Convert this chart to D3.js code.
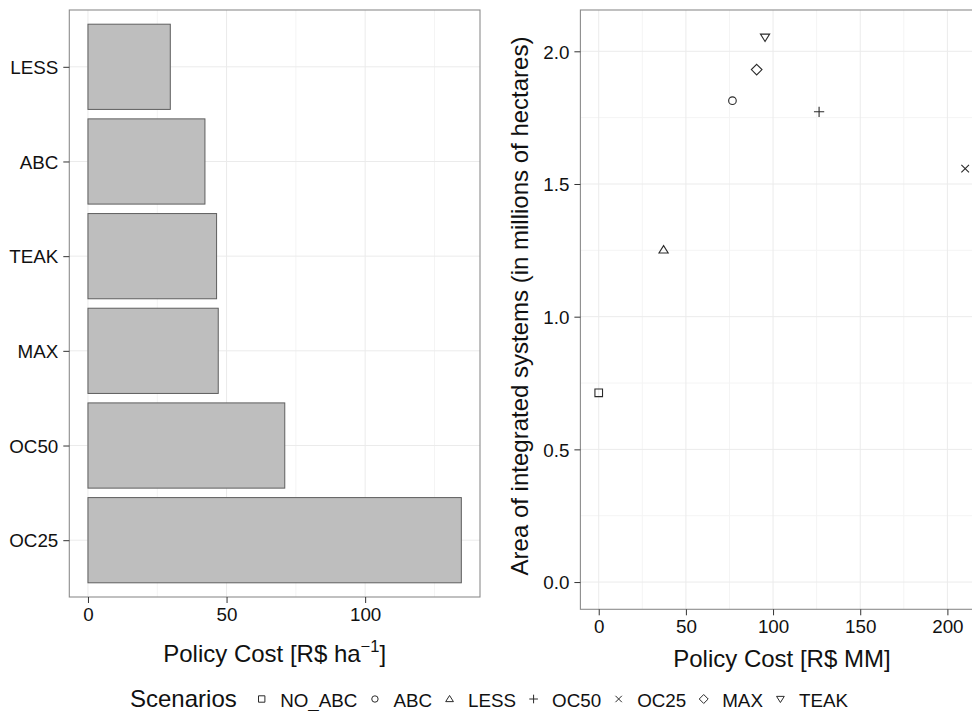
<!DOCTYPE html>
<html><head><meta charset="utf-8">
<script src="https://cdn.jsdelivr.net/npm/d3@7"></script>
<style>
html,body{margin:0;padding:0;background:#fff;overflow:hidden;}
text{font-family:"Liberation Sans",Arial,Helvetica,sans-serif;fill:#111;}
</style></head>
<body>
<svg id="c" width="972" height="711"></svg>
<script>
// ---- data ----
const barCategories = ["LESS","ABC","TEAK","MAX","OC50","OC25"];
const barValues = [29.7, 42.2, 46.4, 47.0, 71.0, 134.7];
const barTicks = [0, 50, 100];

const scenarios = ["NO_ABC","ABC","LESS","OC50","OC25","MAX","TEAK"];
const scenarioCost = [0, 76.7, 37.2, 126.4, 210.2, 90.6, 95.4];
const scenarioArea = [0.713, 1.814, 1.252, 1.772, 1.558, 1.931, 2.053];
const scatterXTicks = [0, 50, 100, 150, 200];
const scatterYTicks = [0.0, 0.5, 1.0, 1.5, 2.0];
const shapes = ["square","circle","triangle","plus","cross","diamond","triangleDown"];

const svg = d3.select("#c");
const TICK_FS = 18.8, TITLE_FS = 24;
const majorCol = "#ebebeb", minorCol = "#f4f4f4", borderCol = "#8c8c8c", tickCol = "#333";

function expand(lo, hi){ const e=(hi-lo)*0.05; return [lo-e, hi+e]; }

// ---------- Left panel ----------
const L = {x0:69.3, x1:480, y0:10, y1:597};
const xL = d3.scaleLinear().domain(expand(0, d3.max(barValues))).range([L.x0, L.x1]);
const yL = d3.scalePoint().domain(barCategories).range([L.y0, L.y1]).padding(0.6);
const gL = svg.append("g");
const minorL = [];
for (let i=0;i<barTicks.length;i++){ const v=barTicks[i]+25; if (v<xL.domain()[1]) minorL.push(v);}
gL.selectAll(".mnx").data(minorL).join("line")
  .attr("x1",d=>xL(d)).attr("x2",d=>xL(d)).attr("y1",L.y0).attr("y2",L.y1)
  .attr("stroke",minorCol).attr("stroke-width",1);
gL.selectAll(".mjx").data(barTicks).join("line")
  .attr("x1",d=>xL(d)).attr("x2",d=>xL(d)).attr("y1",L.y0).attr("y2",L.y1)
  .attr("stroke",majorCol).attr("stroke-width",1);
gL.selectAll(".mjy").data(barCategories).join("line")
  .attr("x1",L.x0).attr("x2",L.x1).attr("y1",d=>yL(d)).attr("y2",d=>yL(d))
  .attr("stroke",majorCol).attr("stroke-width",1);
const bh = yL.step()*0.9;
gL.selectAll("rect.bar").data(barCategories).join("rect")
  .attr("class","bar")
  .attr("x", xL(0))
  .attr("y", d=>yL(d)-bh/2)
  .attr("width", (d,i)=>xL(barValues[i])-xL(0))
  .attr("height", bh)
  .attr("fill","#bebebe").attr("stroke","#5e5e5e").attr("stroke-width",1);
gL.append("rect").attr("x",L.x0).attr("y",L.y0).attr("width",L.x1-L.x0).attr("height",L.y1-L.y0)
  .attr("fill","none").attr("stroke",borderCol).attr("stroke-width",1.1);
const axLx = d3.axisBottom(xL).tickValues(barTicks).tickSize(6).tickPadding(4).tickFormat(d3.format("d"));
const gax = gL.append("g").attr("transform",`translate(0,${L.y1})`).call(axLx);
const axLy = d3.axisLeft(yL).tickSize(6).tickPadding(5);
const gay = gL.append("g").attr("transform",`translate(${L.x0},0)`).call(axLy);
[gax,gay].forEach(g=>{
  g.select(".domain").remove();
  g.selectAll(".tick line").attr("stroke",tickCol).attr("stroke-width",1);
  g.selectAll(".tick text").attr("font-size",TICK_FS).attr("fill","#111")
    .style("font-family",'"Liberation Sans",Arial,sans-serif');
});
gay.selectAll(".tick text").attr("dy","0.36em");
gax.selectAll(".tick text").attr("dy","0.75em");
const tL = gL.append("text").attr("x",(L.x0+L.x1)/2).attr("y",661.7).attr("text-anchor","middle")
  .attr("font-size",TITLE_FS);
tL.append("tspan").text("Policy Cost [R$ ha");
tL.append("tspan").attr("font-size",16.5).attr("dy",-10).text("\u22121");
tL.append("tspan").attr("dy",10).text("]");

// ---------- Right panel ----------
const R = {x0:580.4, x1:983.5, y0:10, y1:609.3};
const xR = d3.scaleLinear().domain(expand(0, d3.max(scenarioCost))).range([R.x0, R.x1]);
const yR = d3.scaleLinear().domain(expand(0, d3.max(scenarioArea))).range([R.y1, R.y0]);
const gR = svg.append("g");
const minorRX = [25,75,125,175].filter(v=>v<xR.domain()[1]);
const minorRY = [0.25,0.75,1.25,1.75].filter(v=>v<yR.domain()[1]);
gR.selectAll(".mnx").data(minorRX).join("line")
  .attr("x1",d=>xR(d)).attr("x2",d=>xR(d)).attr("y1",R.y0).attr("y2",R.y1)
  .attr("stroke",minorCol);
gR.selectAll(".mny").data(minorRY).join("line")
  .attr("x1",R.x0).attr("x2",R.x1).attr("y1",d=>yR(d)).attr("y2",d=>yR(d))
  .attr("stroke",minorCol);
gR.selectAll(".mjx").data(scatterXTicks).join("line")
  .attr("x1",d=>xR(d)).attr("x2",d=>xR(d)).attr("y1",R.y0).attr("y2",R.y1)
  .attr("stroke",majorCol);
gR.selectAll(".mjy").data(scatterYTicks).join("line")
  .attr("x1",R.x0).attr("x2",R.x1).attr("y1",d=>yR(d)).attr("y2",d=>yR(d))
  .attr("stroke",majorCol);
gR.append("rect").attr("x",R.x0).attr("y",R.y0).attr("width",R.x1-R.x0).attr("height",R.y1-R.y0)
  .attr("fill","none").attr("stroke",borderCol).attr("stroke-width",1.1);

function shapePath(shape, s){
  switch(shape){
    case "square": return `M${-s},${-s}H${s}V${s}H${-s}Z`;
    case "circle": return `M${s},0A${s},${s} 0 1,1 ${-s},0A${s},${s} 0 1,1 ${s},0Z`;
    case "triangle": { const h=s*1.1; return `M0,${-h}L${h*1.1},${h*0.75}L${-h*1.1},${h*0.75}Z`; }
    case "triangleDown": { const h=s*1.1; return `M0,${h}L${h*1.1},${-h*0.75}L${-h*1.1},${-h*0.75}Z`; }
    case "plus": { const p=s*1.35; return `M${-p},0H${p}M0,${-p}V${p}`; }
    case "cross": { const p=s*1.0; return `M${-p},${-p}L${p},${p}M${-p},${p}L${p},${-p}`; }
    case "diamond": { const p=s*1.4; return `M0,${-p}L${p},0L0,${p}L${-p},0Z`; }
  }
}
gR.selectAll("path.pt").data(scenarios).join("path")
  .attr("class","pt")
  .attr("transform",(d,i)=>`translate(${xR(scenarioCost[i])},${yR(scenarioArea[i])})`)
  .attr("d",(d,i)=>shapePath(shapes[i],3.8))
  .attr("fill","none").attr("stroke","#2a2a2a").attr("stroke-width",1.1);

const axRx = d3.axisBottom(xR).tickValues(scatterXTicks).tickSize(6).tickPadding(4).tickFormat(d3.format("d"));
const grx = gR.append("g").attr("transform",`translate(0,${R.y1})`).call(axRx);
const axRy = d3.axisLeft(yR).tickValues(scatterYTicks).tickSize(6).tickPadding(5).tickFormat(d3.format(".1f"));
const gry = gR.append("g").attr("transform",`translate(${R.x0},0)`).call(axRy);
[grx,gry].forEach(g=>{
  g.select(".domain").remove();
  g.selectAll(".tick line").attr("stroke",tickCol).attr("stroke-width",1);
  g.selectAll(".tick text").attr("font-size",TICK_FS).attr("fill","#111")
    .style("font-family",'"Liberation Sans",Arial,sans-serif');
});
gry.selectAll(".tick text").attr("dy","0.36em");
grx.selectAll(".tick text").attr("dy","0.75em");
gR.append("text").attr("x",(R.x0+R.x1)/2).attr("y",667).attr("text-anchor","middle")
  .attr("font-size",TITLE_FS).text("Policy Cost [R$ MM]");
gR.append("text").attr("transform",`translate(527.5,306) rotate(-90)`).attr("text-anchor","middle")
  .attr("font-size",TITLE_FS).text("Area of integrated systems (in millions of hectares)");

// ---------- Legend ----------
const gLeg = svg.append("g");
gLeg.append("text").attr("x",130).attr("y",706.5).attr("font-size",TITLE_FS).text("Scenarios");
let lx = 261.7;
scenarios.forEach((s,i)=>{
  gLeg.append("path").attr("transform",`translate(${lx},699)`)
    .attr("d",shapePath(shapes[i],3.2))
    .attr("fill","none").attr("stroke","#2a2a2a").attr("stroke-width",1);
  const t = gLeg.append("text").attr("x",lx+18.5).attr("y",706.5).attr("font-size",TICK_FS).text(s);
  const w = t.node().getComputedTextLength();
  lx = lx + 18.5 + w + 17.5;
});
</script>
</body></html>
